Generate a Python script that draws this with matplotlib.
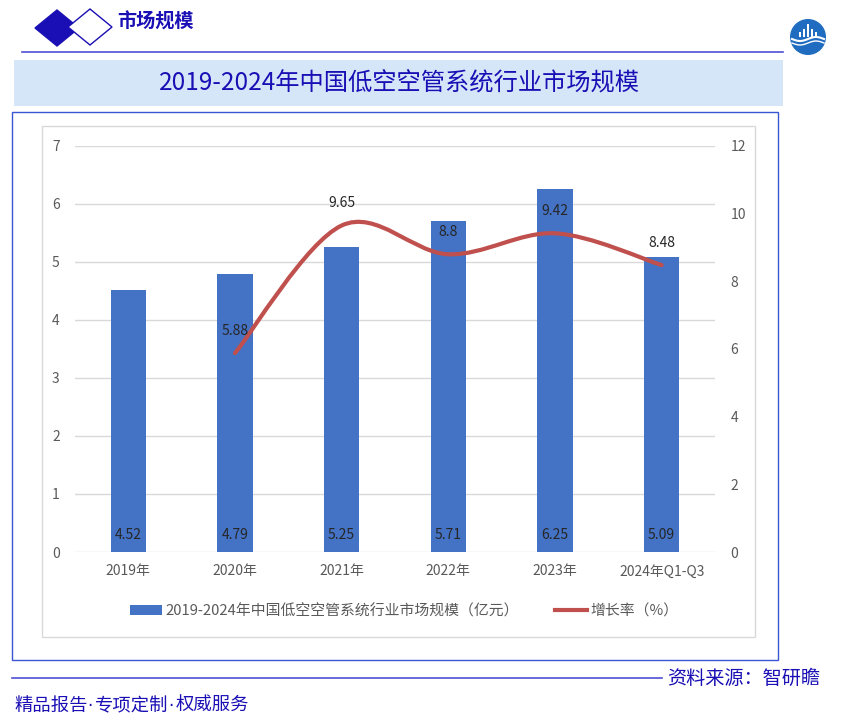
import matplotlib
matplotlib.use('Agg')
import matplotlib.pyplot as plt
from matplotlib.patches import Polygon, Rectangle, Circle, PathPatch
from matplotlib.path import Path
from matplotlib.lines import Line2D
import numpy as np

plt.rcParams['font.family'] = ['Noto Sans CJK SC', 'DejaVu Sans']

categories = ['2019年', '2020年', '2021年', '2022年', '2023年', '2024年Q1-Q3']
market_size = [4.52, 4.79, 5.25, 5.71, 6.25, 5.09]
growth_cats = [1, 2, 3, 4, 5]
growth_rate = [5.88, 9.65, 8.8, 9.42, 8.48]
left_ticks = [0, 1, 2, 3, 4, 5, 6, 7]
right_ticks = [0, 2, 4, 6, 8, 10, 12]

bar_label = '2019-2024年中国低空空管系统行业市场规模（亿元）'
line_label = '增长率（%）'
title = '2019-2024年中国低空空管系统行业市场规模'
slogan = ['精品报告', '专项定制', '权威服务']

W, H = 859, 725
navy = '#1a0fb4'
bar_c = '#4472c4'
line_c = '#c0504d'
grey_txt = '#595959'

fig = plt.figure(figsize=(W / 100, H / 100), dpi=100)

# background layer in pixel coordinates
bg = fig.add_axes([0, 0, 1, 1], zorder=0)
bg.set_xlim(0, W)
bg.set_ylim(H, 0)
bg.axis('off')

# header
bg.add_patch(Polygon([(35, 28), (57, 10), (79, 28), (57, 46)], closed=True, fc=navy, ec=navy))
bg.add_patch(Polygon([(68, 27), (90, 9), (112, 27), (90, 45)], closed=True, fc='white', ec=navy, lw=1))
bg.text(117, 22, '市场规模', color=navy, fontsize=13.8, fontweight='bold', va='center', ha='left')
bg.plot([22, 783], [52, 52], color='#4f4fd6', lw=1.2)

# logo
bg.add_patch(Circle((808, 37), 18, fc='#1f6cc0', ec='none'))
for bx, bh in [(800, 5), (804, 8), (808, 13), (812, 8), (816, 5)]:
    bg.add_patch(Rectangle((bx - 1.2, 37 - bh), 2.4, bh, fc='white', ec='none'))
xs = np.linspace(792, 824, 30)
bg.plot(xs, 39 + 2 * np.sin((xs - 792) / 32 * 2 * np.pi), color='white', lw=1.5)
bg.plot(xs, 43 + 2 * np.sin((xs - 792) / 32 * 2 * np.pi), color='white', lw=1.0)

# title band
bg.add_patch(Rectangle((14, 60), 769, 46, fc='#d6e6f9', ec='none'))
bg.text(399, 84, title, color=navy, fontsize=17.5, ha='center', va='center')

# borders
bg.add_patch(Rectangle((12, 112), 766, 548, fc='none', ec='#3a56d4', lw=1))
bg.add_patch(Rectangle((42, 126), 713, 511, fc='none', ec='#d9d9d9', lw=1))

# footer
bg.plot([12, 662], [678, 678], color='#4f4fd6', lw=1.2)
bg.text(667, 678, '资料来源：智研瞻', color=navy, fontsize=13.8, ha='left', va='center')
for i, part in enumerate(slogan):
    x0 = 14 + i * 81
    bg.text(x0, 706, part, color=navy, fontsize=13.2, ha='left', va='center')
    if i < len(slogan) - 1:
        bg.text(x0 + 76, 706, '·', color=navy, fontsize=12, ha='center', va='center',
                family='DejaVu Sans')

# chart
ax = fig.add_axes([75 / W, 1 - 552 / H, 640 / W, 406 / H], zorder=1)
ax.set_facecolor('none')
x = np.arange(len(categories))
ax.bar(x, market_size, width=0.33, color=bar_c, zorder=2)
ax.set_xlim(-0.5, len(categories) - 0.5)
ax.set_ylim(0, 7)
ax.set_yticks(left_ticks)
ax.set_xticks(x)
ax.set_xticklabels(categories)
ax.grid(axis='y', color='#d9d9d9', lw=1, zorder=0)
ax.tick_params(length=0, labelsize=10, labelcolor=grey_txt)
ax.tick_params(axis='x', pad=9)
ax.tick_params(axis='y', pad=11)
for s in ax.spines.values():
    s.set_visible(False)
for xi, v in zip(x, market_size):
    ax.annotate(f'{v:.2f}', (xi, 0), xytext=(0, 12), textcoords='offset points',
                ha='center', va='center', fontsize=10, color='#262626', zorder=3)

ax2 = ax.twinx()
ax2.set_ylim(0, 12)
ax2.set_yticks(right_ticks)
ax2.tick_params(length=0, labelsize=10, labelcolor=grey_txt, pad=11)
for s in ax2.spines.values():
    s.set_visible(False)

# smoothed line (Bezier through the data points, like a spreadsheet smooth line)
pts = np.column_stack([growth_cats, growth_rate]).astype(float)
ext = np.vstack([pts[0], pts, pts[-1]])
verts = [tuple(pts[0])]
codes = [Path.MOVETO]
for i in range(len(pts) - 1):
    p0, p1, p2, p3 = ext[i], ext[i + 1], ext[i + 2], ext[i + 3]
    c1 = p1 + (p2 - p0) / 6
    c2 = p2 - (p3 - p1) / 6
    verts += [tuple(c1), tuple(c2), tuple(p2)]
    codes += [Path.CURVE4] * 3
ax2.add_patch(PathPatch(Path(verts, codes), fc='none', ec=line_c, lw=3, capstyle='round', zorder=3))
for xi, v in zip(growth_cats, growth_rate):
    ax2.annotate(f'{v:g}', (xi, v), xytext=(0, 16), textcoords='offset points',
                 ha='center', va='center', fontsize=10, color='#262626')

handles = [Rectangle((0, 0), 1, 1, fc=bar_c, ec='none'),
           Line2D([0], [0], color=line_c, lw=3)]
fig.legend(handles, [bar_label, line_label], loc='center', bbox_to_anchor=(404 / W, 1 - 611 / H),
           ncol=2, frameon=False, fontsize=10.7, labelcolor=grey_txt, handlelength=2.2,
           handletextpad=0.2, columnspacing=2.4)

fig.savefig('out.png', dpi=100)
